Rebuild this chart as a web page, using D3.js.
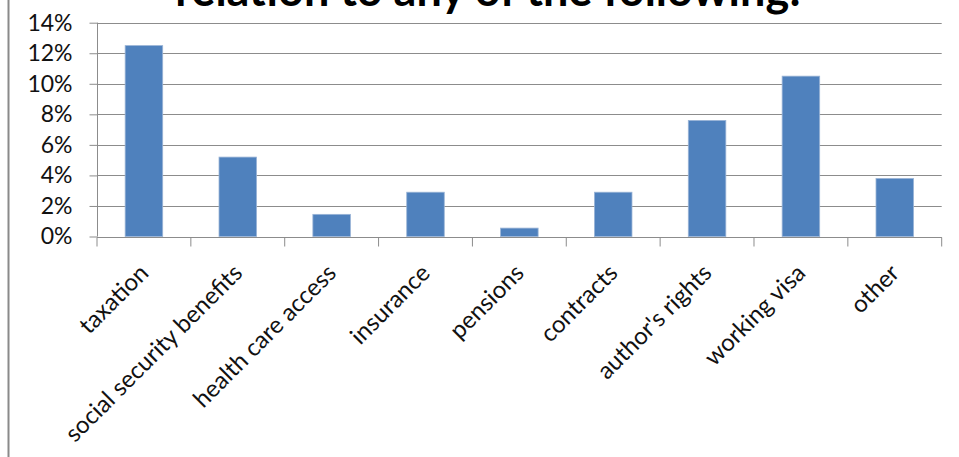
<!DOCTYPE html>
<html>
<head>
<meta charset="utf-8">
<script src="https://cdn.jsdelivr.net/npm/d3@7/dist/d3.min.js"></script>
<style>
  html, body { margin: 0; padding: 0; background: #fff; }
  svg { display: block; }
</style>
</head>
<body>
<svg id="chart" width="959" height="457"></svg>
<script>
const categories = ["taxation", "social security benefits", "health care access", "insurance", "pensions", "contracts", "author's rights", "working visa", "other"];
const values = [12.5, 5.2, 1.45, 2.9, 0.55, 2.9, 7.6, 10.5, 3.8];
const yTicks = [0, 2, 4, 6, 8, 10, 12, 14];
const titleText = "relation to any of the following:";

(function () {
const svg = d3.select("#chart");
const W = 959, H = 457;
const pLeft = 97, pRight = 941.7, pTop = 22.7, pBottom = 236.5;
const font = "Lato, 'Open Sans', sans-serif";

// border
svg.append("line").attr("x1", 8.5).attr("x2", 8.5).attr("y1", 0).attr("y2", H)
  .attr("stroke", "#8a8a8a").attr("stroke-width", 2);

const xb = d3.scaleBand().domain(categories).range([pLeft, pRight]);
const y = d3.scaleLinear().domain([0, 14]).range([pBottom, pTop]);

// gridlines
svg.append("g").selectAll("line").data(yTicks).join("line")
  .attr("x1", pLeft).attr("x2", pRight)
  .attr("y1", d => Math.round(y(d)) + 0.5).attr("y2", d => Math.round(y(d)) + 0.5)
  .attr("stroke", "#8c8c8c").attr("stroke-width", 1);

// bars
svg.append("g").selectAll("rect").data(categories).join("rect")
  .attr("x", d => xb(d) + xb.bandwidth() / 2 - xb.bandwidth() * 0.2)
  .attr("width", xb.bandwidth() * 0.4)
  .attr("y", (d, i) => y(values[i]))
  .attr("height", (d, i) => y(0) - y(values[i]))
  .attr("fill", "#4f81bd")
  .attr("stroke", "#9ab4d6").attr("stroke-width", 0.8);

// y axis
const yAxis = d3.axisLeft(y).tickValues(yTicks).tickSize(8).tickPadding(17)
  .tickFormat(d => d + "%");
const gy = svg.append("g").attr("transform", `translate(${pLeft + 0.5},0)`).call(yAxis);
gy.select(".domain").remove();
gy.append("line").attr("x1", 0).attr("x2", 0).attr("y1", pTop).attr("y2", pBottom)
  .attr("stroke", "#8c8c8c");
gy.selectAll(".tick line").attr("stroke", "#8c8c8c");
gy.selectAll(".tick text").attr("font-family", font)
  .attr("font-size", 23).attr("fill", "#111");

// x axis
const gx = svg.append("g").attr("transform", `translate(0,${Math.round(pBottom) + 0.5})`);
gx.append("line").attr("x1", pLeft).attr("x2", pRight).attr("stroke", "#8c8c8c");
const boundaries = categories.map(c => xb(c)).concat([pRight]);
gx.selectAll("line.t").data(boundaries).join("line").attr("class", "t")
  .attr("x1", d => d).attr("x2", d => d).attr("y1", 0).attr("y2", 9)
  .attr("stroke", "#8c8c8c");
gx.selectAll("text").data(categories).join("text")
  .attr("transform", d => `translate(${xb(d) + xb.bandwidth() / 2 + 6},${37}) rotate(-45)`)
  .attr("text-anchor", "end")
  .attr("font-family", font)
  .attr("font-size", 24).attr("fill", "#111")
  .text(d => d);

// title (cut off at top, as in the source)
svg.append("text").attr("x", 488).attr("y", 6)
  .attr("text-anchor", "middle")
  .attr("font-family", font)
  .attr("font-weight", "bold").attr("font-size", 45).attr("fill", "#000")
  .text(titleText);
})();
</script>
</body>
</html>
